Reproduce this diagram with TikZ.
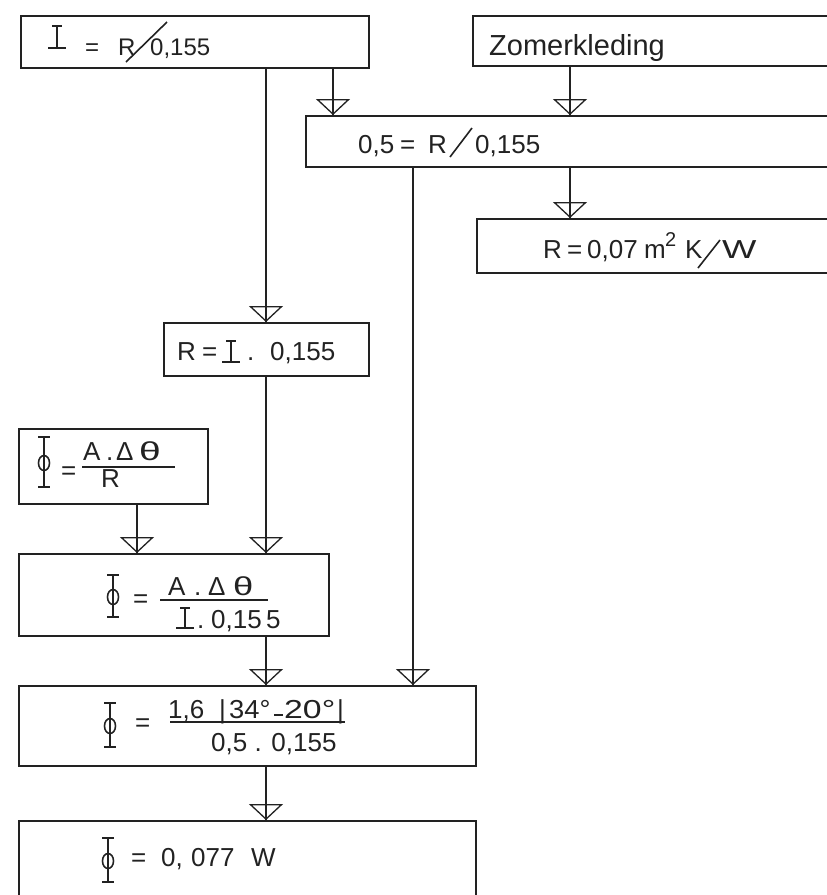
\documentclass[tikz,border=0pt]{standalone}
\usepackage{fontspec}
\setmainfont{Liberation Sans}
\usetikzlibrary{arrows.meta}
\definecolor{ink}{HTML}{222222}
\tikzset{
 box/.style={draw=ink, line width=1.8pt, rectangle, inner sep=0pt, anchor=north west},
 conn/.style={draw=ink, line width=1.3pt},
 tipline/.style={conn, -{Triangle[open, width=34pt, length=16pt, line width=1.3pt]}},
 txt/.style={anchor=base west, inner sep=0pt, text=ink},
 fa/.style={txt, font=\fontsize{24}{28}\selectfont},
 fb/.style={txt, font=\fontsize{26}{30}\selectfont},
 fc/.style={txt, font=\fontsize{26}{30}\selectfont},
 fd/.style={txt, font=\fontsize{29}{33}\selectfont},
 sym/.style={draw=ink, line width=1.6pt},
 pics/phisym/.style={code={
   \draw[sym] (0,-#1)--(0,#1) (-6,-#1)--(6,-#1) (-6,#1)--(6,#1);
   \draw[sym] (0,1) ellipse (5.5 and 7.5);}},
 pics/isym/.style={code={
   \draw[sym] (-9,0)--(9,0) (0,-1)--(0,-#1) (-5,-#1)--(5,-#1);}},
}
\newcommand{\flow}[2]{\draw[conn] (#1) -- (#2); \draw[tipline] (#1) -- (#2);}
\begin{document}
\begin{tikzpicture}[x=1pt,y=-1pt]
\useasboundingbox (0,0) rectangle (827,895);
\fill[white] (0,0) rectangle (827,895);
\clip (0,0) rectangle (827,895);

% boxes
\node[box, minimum width=348pt, minimum height=52pt] (box1) at (20,15) {};
\node[box, minimum width=380pt, minimum height=50pt] (zomer) at (472,15) {};
\node[box, minimum width=540pt, minimum height=51pt] (box05) at (305,115) {};
\node[box, minimum width=370pt, minimum height=54pt] (r007) at (476,218) {};
\node[box, minimum width=205pt, minimum height=53pt] (rbox) at (163,322) {};
\node[box, minimum width=189pt, minimum height=75pt] (phi1) at (18,428) {};
\node[box, minimum width=310pt, minimum height=82pt] (phi2) at (18,553) {};
\node[box, minimum width=457pt, minimum height=80pt] (phi3) at (18,685) {};
\node[box, minimum width=457pt, minimum height=100pt] (phi4) at (18,820) {};

% columns
\coordinate (c137) at (137,0);
\coordinate (c266) at (266,0);
\coordinate (c333) at (333,0);
\coordinate (c413) at (413,0);
\coordinate (c570) at (570,0);

% connectors
\flow{box1.south -| c266}{rbox.north -| c266}
\flow{box1.south -| c333}{box05.north -| c333}
\flow{zomer.south -| c570}{box05.north -| c570}
\flow{box05.south -| c570}{r007.north -| c570}
\flow{box05.south -| c413}{phi3.north -| c413}
\flow{rbox.south -| c266}{phi2.north -| c266}
\flow{phi1.south -| c137}{phi2.north -| c137}
\flow{phi2.south -| c266}{phi3.north -| c266}
\flow{phi3.south -| c266}{phi4.north -| c266}

% box 1 text
\pic at (57,48) {isym=22};
\node[fa] (t1a) at (85,55) {=};
\node[fa] (t1b) at (118,55) {R};
\node[fa] (t1c) at (150,55) {0,155};
\draw[sym] (126,62) -- (167,22);

% Zomerkleding
\node[fd] (t2) at (489,55) {Zomerkleding};

% 0,5 box
\node[fc] (t3a) at (358,153) {0,5};
\node[fc] (t3b) at (400,153) {=};
\node[fc] (t3c) at (428,153) {R};
\node[fc] (t3d) at (475,153) {0,155};
\draw[sym] (450,157) -- (472,128);

% R = 0,07 box
\node[fc] (t4a) at (543,258) {R};
\node[fc] (t4b) at (567,258) {=};
\node[fc] (t4c) at (587,258) {0,07};
\node[fc] (t4d) at (644,258) {m};
\node[txt, font=\fontsize{20}{23}\selectfont] (t4e) at (665,246) {2};
\node[fc] (t4f) at (685,258) {K};
\node[fc] (t4g) at (722,258) {\scalebox{1.4}[1]{W}};
\draw[sym] (698,268) -- (720,240);

% R = I . 0,155 box
\node[fc] (t5a) at (177,360) {R};
\node[fc] (t5b) at (202,360) {=};
\pic at (231,362) {isym=21};
\node[fc] (t5c) at (247,360) {.};
\node[fc] (t5d) at (270,360) {0,155};

% phi1 box
\pic at (44,462) {phisym=25};
\node[fb] (t6a) at (61,479) {=};
\draw[sym] (82,467) -- (175,467);
\node[fb] (t6b) at (83,460) {A};
\node[fb] (t6c) at (106,460) {.};
\node[fb] (t6d) at (116,460) {Δ};
\node[fb] (t6e) at (139,460) {\scalebox{1.5}[1]{θ}};
\node[fb] (t6f) at (101,487) {R};

% phi2 box
\pic at (113,596) {phisym=21};
\node[fb] (t7a) at (133,607) {=};
\draw[sym] (160,600) -- (268,600);
\node[fb] (t7b) at (168,595) {A};
\node[fb] (t7c) at (194,595) {.};
\node[fb] (t7d) at (208,595) {Δ};
\node[fb] (t7e) at (233,595) {\scalebox{1.4}[1]{θ}};
\pic at (185,628) {isym=20};
\node[fb] (t7f) at (197,628) {.};
\node[fb] (t7g) at (211,628) {0,15\,5};

% phi3 box
\pic at (110,725) {phisym=22};
\node[fb] (t8a) at (135,731) {=};
\draw[sym] (170,722) -- (345,722);
\node[fb] (t8b) at (168,718) {1,6};
\node[fb] (t8c) at (219,718) {|};
\node[fb] (t8d) at (229,718) {\scalebox{1.05}[1]{34°}};
\draw[sym] (274,715) -- (283,715);
\node[fb] (t8f) at (284,718) {\scalebox{1.3}[1]{20°}};
\node[fb] (t8g) at (337,718) {|};
\node[fb] (t8h) at (211,751) {0,5 . 0,155};

% phi4 box
\pic at (108,860) {phisym=22};
\node[fb] (t9a) at (131,866) {=};
\node[fb] (t9b) at (161,866) {0,};
\node[fb] (t9c) at (191,866) {077};
\node[fb] (t9d) at (251,866) {W};
\end{tikzpicture}
\end{document}
